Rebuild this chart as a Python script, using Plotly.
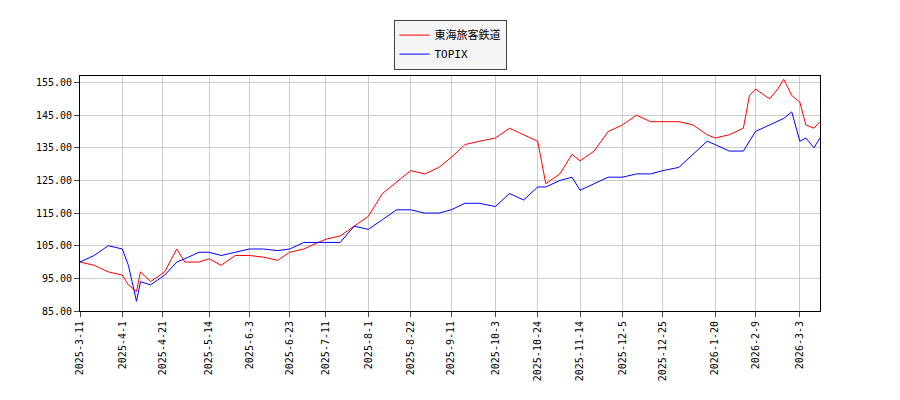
import plotly.graph_objects as go

dates = ["2025-03-11","2025-03-18","2025-03-25","2025-04-01","2025-04-04","2025-04-08","2025-04-10","2025-04-15","2025-04-22","2025-04-28","2025-05-02","2025-05-09","2025-05-14","2025-05-20","2025-05-27","2025-06-03","2025-06-10","2025-06-17","2025-06-23","2025-06-30","2025-07-07","2025-07-11","2025-07-18","2025-07-25","2025-08-01","2025-08-08","2025-08-15","2025-08-22","2025-08-29","2025-09-05","2025-09-11","2025-09-18","2025-09-25","2025-10-03","2025-10-10","2025-10-17","2025-10-24","2025-10-28","2025-11-04","2025-11-10","2025-11-14","2025-11-21","2025-11-28","2025-12-05","2025-12-12","2025-12-19","2025-12-25","2026-01-02","2026-01-09","2026-01-16","2026-01-20","2026-01-27","2026-02-03","2026-02-06","2026-02-09","2026-02-16","2026-02-20","2026-02-23","2026-02-27","2026-03-03","2026-03-06","2026-03-10","2026-03-13"]
jr_central = [100,99,97,96,93,91,97,94,97,104,100,100,101,99,102,102,101.5,100.5,103,104,106,107,108,111,114,121,124.5,128,127,129,132,136,137,138,141,139,137,124,127,133,131,134,140,142,145,143,143,143,142,139,138,139,141,151,153,150,153,156,151,149,142,141,143]
topix = [100,102,105,104,99,88,94,93,96,100,101,103,103,102,103,104,104,103.5,104,106,106,106,106,111,110,113,116,116,115,115,116,118,118,117,121,119,123,123,125,126,122,124,126,126,127,127,128,129,133,137,136,134,134,137,140,142,143,144,146,137,138,135,138]
tick_dates = ["2025-03-11","2025-04-01","2025-04-21","2025-05-14","2025-06-03","2025-06-23","2025-07-11","2025-08-01","2025-08-22","2025-09-11","2025-10-03","2025-10-24","2025-11-14","2025-12-05","2025-12-25","2026-01-20","2026-02-09","2026-03-03"]
tick_text = ["2025-3-11","2025-4-1","2025-4-21","2025-5-14","2025-6-3","2025-6-23","2025-7-11","2025-8-1","2025-8-22","2025-9-11","2025-10-3","2025-10-24","2025-11-14","2025-12-5","2025-12-25","2026-1-20","2026-2-9","2026-3-3"]
y_ticks = [85,95,105,115,125,135,145,155]

fig = go.Figure()
fig.add_trace(go.Scatter(x=dates, y=jr_central, mode="lines", name="東海旅客鉄道", line=dict(color="red", width=1)))
fig.add_trace(go.Scatter(x=dates, y=topix, mode="lines", name="TOPIX", line=dict(color="blue", width=1)))
fig.update_layout(
    width=900, height=400, plot_bgcolor="white", paper_bgcolor="white",
    margin=dict(l=72, r=88, t=63, b=97),
    font=dict(family="DejaVu Sans Mono, Noto Sans CJK JP", size=10, color="black"),
    legend=dict(x=0.5, xanchor="center", y=1.24, yanchor="top", bordercolor="#444", borderwidth=1, bgcolor="#f5f5f5",
                font=dict(size=11)),
    showlegend=True,
)
fig.update_xaxes(range=["2025-03-11","2026-03-13"], tickvals=tick_dates, ticktext=tick_text, tickangle=-90,
                 showgrid=True, gridcolor="#cccccc", showline=True, linecolor="black", mirror=True, ticks="outside")
fig.update_yaxes(range=[85,157], tickvals=y_ticks, ticktext=[f"{v:.2f}" for v in y_ticks],
                 showgrid=True, gridcolor="#cccccc", showline=True, linecolor="black", mirror=True, ticks="outside")
fig.write_html("out.html")
